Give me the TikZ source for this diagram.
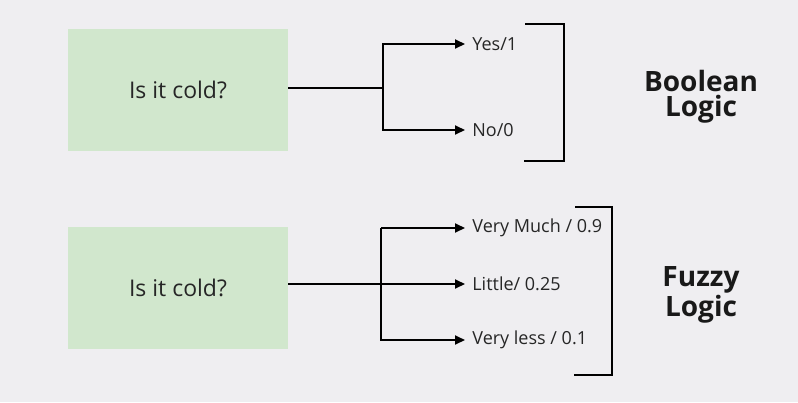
\documentclass[tikz,border=0pt]{standalone}
\usepackage{fontspec}
\setmainfont{Open Sans}
\usetikzlibrary{arrows.meta}
\definecolor{boxgreen}{HTML}{D1E7CD}
\definecolor{paper}{HTML}{EFEEF1}

\begin{document}
\begin{tikzpicture}[x=0.5pt, y=-0.5pt,
                    question/.style={rectangle, fill=boxgreen, draw=none, minimum width=110pt, minimum height=61pt, font=\fontsize{11.5}{13}\selectfont, text=black!85},
                    answer/.style={anchor=west, inner sep=3.5pt, font=\fontsize{9}{11}\selectfont, text=black!85},
                    title/.style={align=center, font=\bfseries\fontsize{14}{12.5}\selectfont, text=black!90},
                    arr/.style={-{Triangle[length=5pt, width=4.5pt]}, line width=1pt},
                    bracket/.style={line width=1pt}
                ]
                \fill[paper] (0,0) rectangle (798,402);
                \useasboundingbox (0,0) rectangle (798,402);
                % boolean
                \node[question] (q1) at (178,90) {Is it cold?};
                \coordinate (b1) at (383,88);
                \node[answer] (yes) at (465,44) {Yes/1};
                \node[answer] (no) at (465,130) {No/0};
                \draw[line width=1pt] (q1.east |- b1) -- (b1);
                \draw[arr] (b1) |- (yes.west);
                \draw[arr] (b1) |- (no.west);
                \draw[bracket] (525,24) -| (564,161) -- (524,161);
                \node[title] (bool) at (701,97) {Boolean\\Logic};
                % fuzzy
                \node[question] (q2) at (178,288) {Is it cold?};
                \coordinate (b2) at (381,286);
                \node[answer] (much) at (465,228) {Very Much / 0.9};
                \node[answer] (little) at (465,284) {Little/ 0.25};
                \node[answer] (less) at (465,340) {Very less / 0.1};
                \draw[arr] (q2.east |- little.west) -- (little.west);
                \draw[arr] (b2 |- much.west) -- (much.west);
                \draw[arr] (b2 |- much.west) |- (less.west);
                \draw[bracket] (575,207) -| (612,375) -- (574,375);
                \node[title] (fuzzy) at (701,295) {Fuzzy\\Logic};
\end{tikzpicture}
\end{document}
